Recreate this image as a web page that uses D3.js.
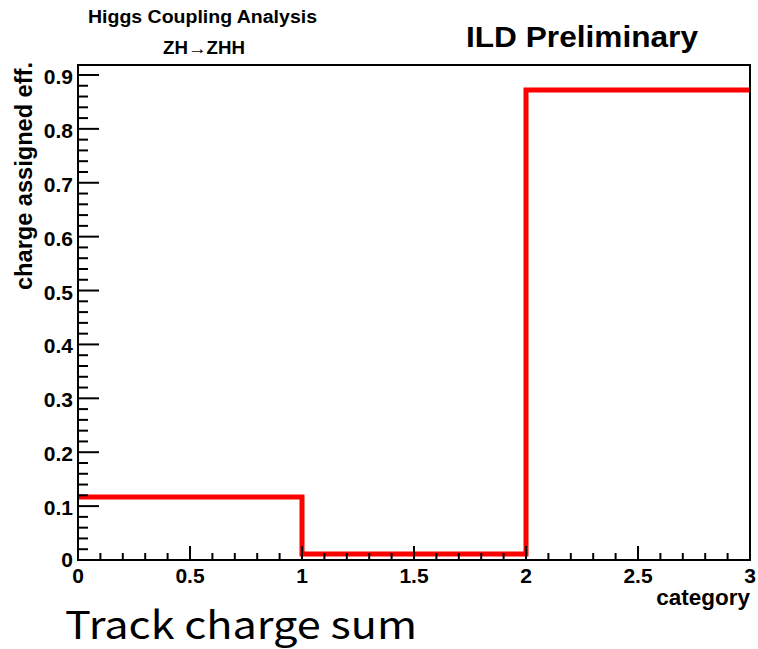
<!DOCTYPE html>
<html><head><meta charset="utf-8">
<script src="https://cdn.jsdelivr.net/npm/d3@7"></script>
<style>body{margin:0;background:#fff}svg{display:block}</style>
</head><body>
<svg id="c" width="758" height="649"></svg>
<script>
const binEdges = [0, 1, 2, 3];
const binValues = [0.117, 0.011, 0.872];
const xTicks = [0, 0.5, 1, 1.5, 2, 2.5, 3];
const xTickLabels = ["0", "0.5", "1", "1.5", "2", "2.5", "3"];
const yTicks = [0, 0.1, 0.2, 0.3, 0.4, 0.5, 0.6, 0.7, 0.8, 0.9];
const yTickLabels = ["0", "0.1", "0.2", "0.3", "0.4", "0.5", "0.6", "0.7", "0.8", "0.9"];

const svg = d3.select("#c");
const L = 78, R = 750, T = 65, B = 560;
const x = d3.scaleLinear().domain([0, 3]).range([L, R]);
const y = d3.scaleLinear().domain([0, 0.9185]).range([B, T]);
const bold = "'Liberation Sans', Arial, sans-serif";

// histogram step line
const pts = [];
binValues.forEach((v, i) => { pts.push([binEdges[i], v]); pts.push([binEdges[i + 1], v]); });
svg.append("path")
  .attr("d", d3.line().x(d => x(d[0])).y(d => y(d[1])).curve(d3.curveLinear)(pts))
  .attr("fill", "none").attr("stroke", "#ff0000").attr("stroke-width", 5)
  .attr("stroke-linejoin", "miter");

// frame
svg.append("rect").attr("x", L).attr("y", T).attr("width", R - L).attr("height", B - T)
  .attr("fill", "none").attr("stroke", "#000").attr("stroke-width", 2);

// x axis ticks (inside, upward)
const gx = svg.append("g");
d3.range(0, 31).forEach(i => {
  const v = i / 10, major = i % 5 === 0;
  gx.append("line").attr("x1", x(v)).attr("x2", x(v)).attr("y1", B).attr("y2", B - (major ? 14 : 7))
    .attr("stroke", "#000").attr("stroke-width", 2);
});
xTicks.forEach((v, i) => {
  svg.append("text").attr("x", x(v)).attr("y", 583).attr("text-anchor", "middle")
    .attr("font-family", bold).attr("font-weight", "bold").attr("font-size", 21)
    .text(xTickLabels[i]);
});

// y axis ticks (inside, rightward)
const gy = svg.append("g");
d3.range(0, 46).forEach(i => {
  const v = i / 50, major = i % 5 === 0;
  if (y(v) < T) return;
  gy.append("line").attr("x1", L).attr("x2", L + (major ? 21 : 10)).attr("y1", y(v)).attr("y2", y(v))
    .attr("stroke", "#000").attr("stroke-width", 2);
});
yTicks.forEach((v, i) => {
  svg.append("text").attr("x", 73).attr("y", y(v) + (i === 0 ? 7 : 9)).attr("text-anchor", "end")
    .attr("font-family", bold).attr("font-weight", "bold").attr("font-size", 21)
    .text(yTickLabels[i]);
});

// axis titles
svg.append("text").attr("x", 750).attr("y", 605).attr("text-anchor", "end")
  .attr("font-family", bold).attr("font-weight", "bold").attr("font-size", 22.5).text("category");
svg.append("text").attr("transform", "translate(32,62) rotate(-90)").attr("text-anchor", "end")
  .attr("font-family", bold).attr("font-weight", "bold").attr("font-size", 23)
  .attr("textLength", 228).attr("lengthAdjust", "spacingAndGlyphs").text("charge assigned eff.");

// headers
svg.append("text").attr("x", 88).attr("y", 23)
  .attr("font-family", bold).attr("font-weight", "bold").attr("font-size", 17.5)
  .attr("textLength", 229).attr("lengthAdjust", "spacingAndGlyphs")
  .text("Higgs Coupling Analysis");
svg.append("text").attr("x", 163).attr("y", 54)
  .attr("font-family", bold).attr("font-weight", "bold").attr("font-size", 17.5)
  .attr("textLength", 82).attr("lengthAdjust", "spacingAndGlyphs").text("ZH\u2192ZHH");
svg.append("text").attr("x", 466).attr("y", 47)
  .attr("font-family", bold).attr("font-weight", "bold").attr("font-size", 30)
  .attr("textLength", 232).attr("lengthAdjust", "spacingAndGlyphs").text("ILD Preliminary");

svg.append("text").attr("x", 65).attr("y", 639)
  .attr("font-family", "'Noto Sans CJK JP', 'Noto Sans', sans-serif").attr("font-size", 38)
  .attr("textLength", 352).attr("lengthAdjust", "spacingAndGlyphs")
  .text("Track charge sum");
</script>
</body></html>
